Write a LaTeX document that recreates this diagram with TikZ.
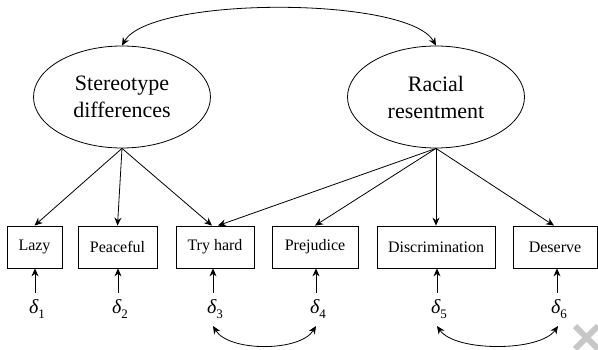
\documentclass[tikz,border=0pt]{standalone}
\usepackage{fontspec}
\setmainfont{Liberation Serif}
\newfontfamily\tnr{Liberation Serif}
\usetikzlibrary{arrows.meta,shapes.geometric}
\tikzset{
  lat/.style={draw, ellipse, line width=0.8pt, inner sep=0pt, minimum width=177pt, minimum height=102pt, align=center, font=\tnr\fontsize{22}{27}\selectfont},
  obs/.style={draw, rectangle, line width=0.8pt, inner sep=0pt, minimum height=42pt, font=\tnr\fontsize{16}{18}\selectfont},
  err/.style={inner sep=1pt, font=\tnr\fontsize{20}{22}\selectfont},
  arr/.style={line width=0.8pt, -{Stealth[length=8pt,width=7pt]}},
  darr/.style={line width=0.8pt, {Stealth[length=8pt,width=7pt]}-{Stealth[length=8pt,width=7pt]}}
}
\newcommand{\dl}[1]{{\itshape δ}\raisebox{-5pt}{\fontsize{13}{14}\selectfont #1}}
\begin{document}
\begin{tikzpicture}[x=1pt,y=-1pt]
\useasboundingbox (0,0) rectangle (598,350);
\node[lat] (sd) at (122,97) {Stereotype\\differences};
\node[lat] (rr) at (436,97) {Racial\\resentment};
\node[obs, minimum width=55pt] (lazy) at (34.5,247) {Lazy};
\node[obs, minimum width=79pt] (peace) at (117.5,247) {Peaceful};
\node[obs, minimum width=78pt] (try) at (215,247) {Try hard};
\node[obs, minimum width=86pt] (prej) at (315,247) {Prejudice};
\node[obs, minimum width=118pt] (disc) at (436,247) {Discrimination};
\node[obs, minimum width=84pt] (des) at (555,247) {Deserve};
\node[err] (d1) at (37,309) {\dl{1}};
\node[err] (d2) at (120,309) {\dl{2}};
\node[err] (d3) at (215,309) {\dl{3}};
\node[err] (d4) at (318,309) {\dl{4}};
\node[err] (d5) at (439,309) {\dl{5}};
\node[err] (d6) at (559,309) {\dl{6}};
\coordinate (t1) at (35,293);
\coordinate (t2) at (118,293);
\coordinate (t3) at (213,293);
\coordinate (t4) at (316,293);
\coordinate (t5) at (437,293);
\coordinate (t6) at (557,293);
\coordinate (b3) at (213,326);
\coordinate (b4) at (316,326);
\coordinate (b5) at (437,326);
\coordinate (b6) at (558,326);
% covariance between latents
\draw[darr] (sd.north) .. controls (150,-4) and (408,-4) .. (rr.north);
% loadings
\draw[arr] (sd.south) -- (lazy.north);
\draw[arr] (sd.south) -- (peace.north);
\draw[arr] (sd.south) -- ([xshift=-3pt]try.north);
\draw[arr] (rr.south) -- ([xshift=3pt]try.north);
\draw[arr] (rr.south) -- (prej.north);
\draw[arr] (rr.south) -- (disc.north);
\draw[arr] (rr.south) -- ([xshift=-1pt]des.north);
% errors
\foreach \t/\b in {t1/lazy,t2/peace,t3/try,t4/prej,t5/disc,t6/des}
  \draw[arr] (\t) -- (\t |- \b.south);
% error covariances
\draw[darr] (b3) .. controls +(16,26) and +(-16,26) .. (b4);
\draw[darr] (b5) .. controls +(18,26) and +(-18,26) .. (b6);
% grey cross mark
\draw[line width=6pt, black!22] (575,326) -- (598,349) (598,326) -- (575,349);
\end{tikzpicture}
\end{document}
